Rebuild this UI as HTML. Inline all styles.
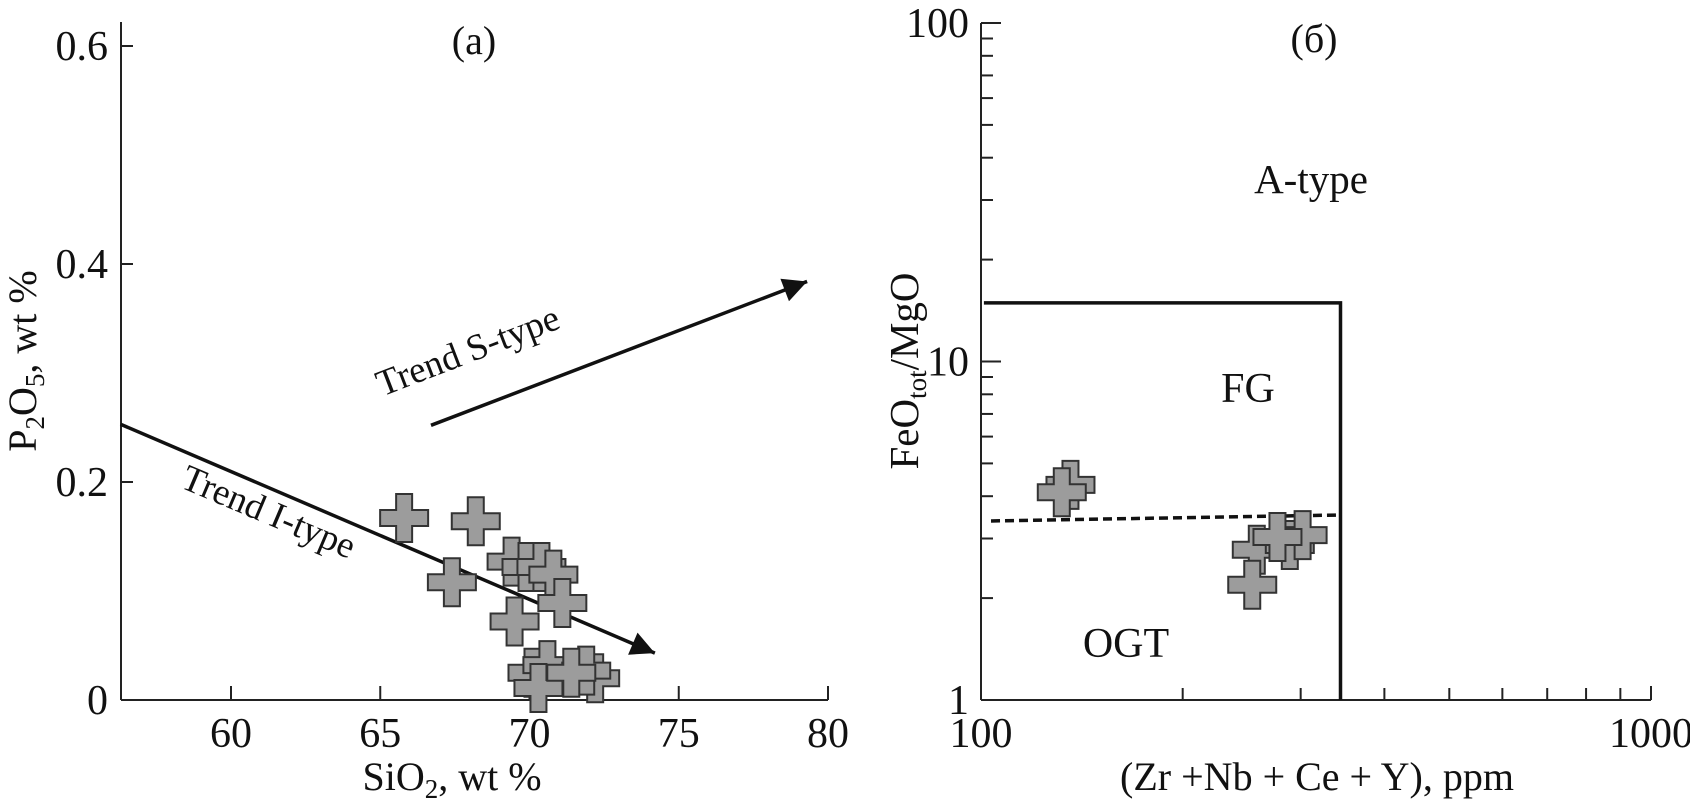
<!DOCTYPE html>
<html><head><meta charset="utf-8"><style>
html,body{margin:0;padding:0;background:#fff;}
svg{display:block;font-family:"Liberation Serif",serif;}
</style></head>
<body>
<svg id="chart" width="1690" height="809" viewBox="0 0 1690 809">
<defs>
<marker id="ah" markerWidth="30" markerHeight="24" refX="10" refY="5" orient="auto" markerUnits="userSpaceOnUse" viewBox="0 0 10 10">
<path d="M0,0 L10,5 L0,10 Z" fill="#111"/>
</marker>
</defs>
<g id="pa"></g>
<g id="pb"></g>
</svg>
<script>
// Panel (a) data
const aXTicks = [60, 65, 70, 75, 80];
const aYTicks = [0, 0.2, 0.4, 0.6];
const aYTickLabels = ["0", "0.2", "0.4", "0.6"];
const aSiO2 = [65.8, 68.2, 67.4, 69.4, 69.9, 70.4, 70.8, 71.1, 69.5, 70.1, 70.6, 70.3, 72.2, 71.9, 71.4];
const aP2O5 = [0.167, 0.164, 0.108, 0.127, 0.122, 0.122, 0.115, 0.089, 0.072, 0.025, 0.032, 0.011, 0.020, 0.027, 0.025];
const trendI = [[56.3, 0.253], [74.2, 0.043]];
const trendS = [[66.7, 0.252], [79.3, 0.384]];
// Panel (b) data
const bXMajor = [100, 1000];
const bXMinor = [200, 300, 400, 500, 600, 700, 800, 900];
const bYMajor = [1, 10, 100];
const bYMinor = [2, 3, 4, 5, 6, 7, 8, 9, 20, 30, 40, 50, 60, 70, 80, 90];
const bSum = [136, 132, 258, 289, 302, 277, 254];
const bRatio = [4.32, 4.11, 2.78, 2.87, 3.07, 3.03, 2.19];
const fgTop = 14.9;
const fgRight = 344;
const dashLine = [[103.5, 3.38], [344, 3.52]];

const NS = "http://www.w3.org/2000/svg";
function mk(parent, tag, attrs, text) {
  const e = document.createElementNS(NS, tag);
  for (const k in attrs) e.setAttribute(k, attrs[k]);
  if (text !== undefined) e.textContent = text;
  parent.appendChild(e);
  return e;
}
function crossPath(cx, cy) {
  const h = 24, w = 8;
  return `M${cx-w},${cy-h}H${cx+w}V${cy-w}H${cx+h}V${cy+w}H${cx+w}V${cy+h}H${cx-w}V${cy+w}H${cx-h}V${cy-w}H${cx-w}Z`;
}

// ---------- Panel (a) ----------
const ax = v => 231 + (v - 60) * 29.85;
const ay = v => 700 - v * 1090;
const pa = document.getElementById('pa');
let e;
e = mk(pa, 'line', {x1:121, y1:22, x2:121, y2:700, stroke:'#222', 'stroke-width':2});
 
e = mk(pa, 'line', {x1:121, y1:700, x2:ax(80), y2:700, stroke:'#222', 'stroke-width':2});
 
aXTicks.forEach(v => {
  e = mk(pa, 'line', {x1:ax(v), y1:700, x2:ax(v), y2:686, stroke:'#222', 'stroke-width':2});
   
  e = mk(pa, 'text', {x:ax(v), y:747, 'font-size':42, 'text-anchor':'middle', fill:'#111'}, String(v));
   
});
aYTicks.forEach((v, i) => {
  e = mk(pa, 'line', {x1:121, y1:ay(v), x2:133, y2:ay(v), stroke:'#222', 'stroke-width':2});
   
  e = mk(pa, 'text', {x:108, y:ay(v)+14, 'font-size':42, 'text-anchor':'end', fill:'#111'}, aYTickLabels[i]);
   
});
e = mk(pa, 'text', {x:474, y:54, 'font-size':40, 'text-anchor':'middle', fill:'#111'}, '(a)');
 
// x title
e = mk(pa, 'text', {x:452, y:790, 'font-size':40, 'text-anchor':'middle', fill:'#111'});
 
mk(e, 'tspan', {}, 'SiO');
mk(e, 'tspan', {'font-size':27, dy:8}, '2');
mk(e, 'tspan', {dy:-8}, ', wt %');
// y title
e = mk(pa, 'text', {x:0, y:0, 'font-size':40, 'text-anchor':'middle', fill:'#111', transform:'translate(36,361) rotate(-90)'});
 
mk(e, 'tspan', {}, 'P');
mk(e, 'tspan', {'font-size':27, dy:8}, '2');
mk(e, 'tspan', {dy:-8}, 'O');
mk(e, 'tspan', {'font-size':27, dy:8}, '5');
mk(e, 'tspan', {dy:-8}, ', wt %');
// trend arrows
e = mk(pa, 'line', {x1:ax(trendI[0][0]), y1:ay(trendI[0][1]), x2:ax(trendI[1][0]), y2:ay(trendI[1][1]), stroke:'#111', 'stroke-width':3.5, 'marker-end':'url(#ah)'});
 
e = mk(pa, 'line', {x1:ax(trendS[0][0]), y1:ay(trendS[0][1]), x2:ax(trendS[1][0]), y2:ay(trendS[1][1]), stroke:'#111', 'stroke-width':3.5, 'marker-end':'url(#ah)'});
 
e = mk(pa, 'text', {x:0, y:0, 'font-size':37, 'text-anchor':'middle', fill:'#111', transform:'translate(264,523) rotate(23)'}, 'Trend I-type');
 
e = mk(pa, 'text', {x:0, y:0, 'font-size':37, 'text-anchor':'middle', fill:'#111', transform:'translate(472,362) rotate(-21)'}, 'Trend S-type');
 
aSiO2.forEach((v, i) => {
  e = mk(pa, 'path', {d:crossPath(ax(v), ay(aP2O5[i])), fill:'#9c9c9c', stroke:'#333', 'stroke-width':2});
   
});

// ---------- Panel (b) ----------
const bx = v => 981 + Math.log10(v / 100) * 670;
const by = v => 700 - Math.log10(v) * 338.5;
const pb = document.getElementById('pb');
e = mk(pb, 'line', {x1:981, y1:by(100), x2:981, y2:700, stroke:'#222', 'stroke-width':2});
 
e = mk(pb, 'line', {x1:981, y1:700, x2:bx(1000), y2:700, stroke:'#222', 'stroke-width':2});
 
e = mk(pb, 'line', {x1:bx(1000), y1:700, x2:bx(1000), y2:686, stroke:'#222', 'stroke-width':2});
 
bXMajor.forEach(v => {
  e = mk(pb, 'text', {x:bx(v), y:747, 'font-size':42, 'text-anchor':'middle', fill:'#111'}, String(v));
   
});
bXMinor.forEach(v => {
  e = mk(pb, 'line', {x1:bx(v), y1:700, x2:bx(v), y2:688, stroke:'#222', 'stroke-width':2});
   
});
bYMajor.forEach(v => {
  e = mk(pb, 'line', {x1:981, y1:by(v), x2:1001, y2:by(v), stroke:'#222', 'stroke-width':2});
   
  e = mk(pb, 'text', {x:969, y:by(v)+14, 'font-size':42, 'text-anchor':'end', fill:'#111'}, String(v));
   
});
bYMinor.forEach(v => {
  e = mk(pb, 'line', {x1:981, y1:by(v), x2:993, y2:by(v), stroke:'#222', 'stroke-width':2});
   
});
e = mk(pb, 'text', {x:1314, y:52, 'font-size':40, 'text-anchor':'middle', fill:'#111'}, '(б)');
 
e = mk(pb, 'text', {x:1317, y:790, 'font-size':40, 'text-anchor':'middle', fill:'#111'}, '(Zr +Nb + Ce + Y), ppm');
 
e = mk(pb, 'text', {x:0, y:0, 'font-size':41, 'text-anchor':'middle', fill:'#111', transform:'translate(918,371) rotate(-90)'});
 
mk(e, 'tspan', {}, 'FeO');
mk(e, 'tspan', {'font-size':27, dy:8}, 'tot');
mk(e, 'tspan', {dy:-8}, '/MgO');
// field boundaries
e = mk(pb, 'polyline', {points:`${bx(101)},${by(fgTop)} ${bx(fgRight)},${by(fgTop)} ${bx(fgRight)},700`, fill:'none', stroke:'#111', 'stroke-width':3.5});
 
e = mk(pb, 'line', {x1:bx(dashLine[0][0]), y1:by(dashLine[0][1]), x2:bx(dashLine[1][0]), y2:by(dashLine[1][1]), stroke:'#111', 'stroke-width':3.5, 'stroke-dasharray':'9,5'});
 
e = mk(pb, 'text', {x:1311, y:193, 'font-size':41, 'text-anchor':'middle', fill:'#111'}, 'A-type');
 
e = mk(pb, 'text', {x:1248, y:402, 'font-size':42, 'text-anchor':'middle', fill:'#111'}, 'FG');
 
e = mk(pb, 'text', {x:1126, y:657, 'font-size':42, 'text-anchor':'middle', fill:'#111'}, 'OGT');
 
bSum.forEach((v, i) => {
  e = mk(pb, 'path', {d:crossPath(bx(v), by(bRatio[i])), fill:'#9c9c9c', stroke:'#333', 'stroke-width':2});
   
});
</script>
</body></html>
